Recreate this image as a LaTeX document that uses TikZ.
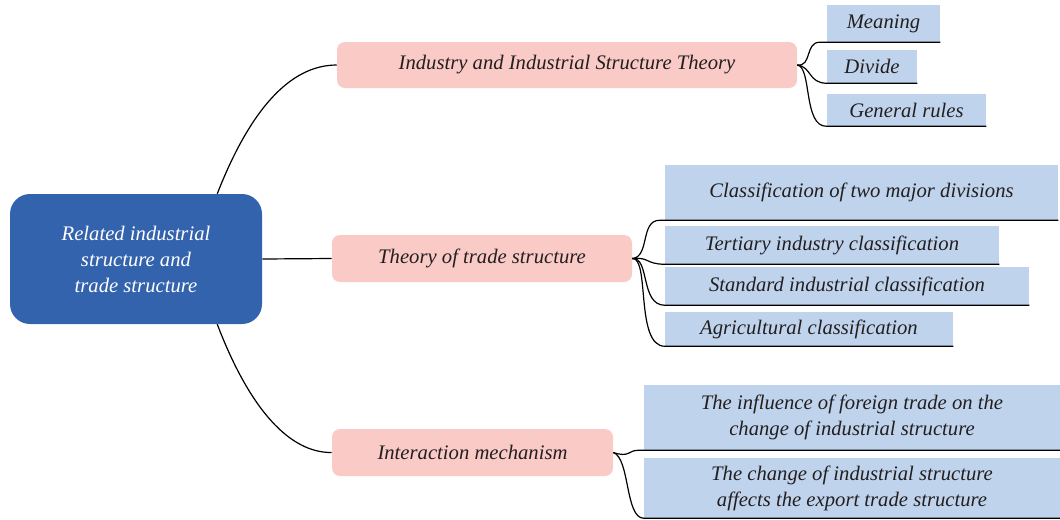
\documentclass[tikz,border=0pt]{standalone}
\usepackage{fontspec}
\setmainfont{Liberation Serif}
\usepackage{xcolor}
\usepackage{tikz}
\usetikzlibrary{calc}
\definecolor{rootblue}{HTML}{3463AE}
\definecolor{branchpink}{HTML}{F9CAC6}
\definecolor{leafblue}{HTML}{BFD4EC}
\definecolor{inkgray}{HTML}{231F20}
\tikzset{
  %---------------------------------------%
  %  Mind map boxes                       %
  %---------------------------------------%
  % Box for the central topic
  box_root/.style={
    rectangle,
    rounded corners=15pt,
    align=center,
    fill=rootblue,
    text=white,
    font=\itshape\fontsize{15.5}{19.5}\selectfont
  },
  % Box for the main branches
  box_branch/.style={
    rectangle,
    rounded corners=6pt,
    align=center,
    fill=branchpink,
    text=inkgray,
    font=\itshape\fontsize{15.5}{19.5}\selectfont
  },
  % Box for the leaves
  box_leaf/.style={
    rectangle,
    align=center,
    fill=leafblue,
    text=inkgray,
    font=\itshape\fontsize{15.5}{19.5}\selectfont
  },
  %----------------%
  %     Lines      %
  %----------------%
  link/.style={draw=black,line width=0.9pt},
}

\begin{document}
\begin{tikzpicture}[x=0.75pt, y=-0.75pt]
    \useasboundingbox (0,0) rectangle (1060,519);
    %------------------%
    %  Central topic   %
    %------------------%
    \node (root) [box_root, minimum width=189pt, minimum height=97.5pt] at (136, 259) {Related industrial\\structure and\\trade structure};

    %------------------%
    %  Main branches   %
    %------------------%
    % Industry branch
    \node (ind) [box_branch, minimum width=345pt, minimum height=34.5pt] at (567, 65) {Industry and Industrial Structure Theory};
    % Trade branch
    \node (trade) [box_branch, minimum width=225pt, minimum height=35.25pt] at (482, 258.5) {Theory of trade structure};
    % Interaction branch
    \node (inter) [box_branch, minimum width=210.75pt, minimum height=35.25pt] at (472.5, 452.5) {Interaction mechanism};

    %------------------------%
    %  Leaves: Industry      %
    %------------------------%
    \node (meaning) [box_leaf, minimum width=84.75pt, minimum height=27.75pt] at (883.5, 23.5) {Meaning};
    \node (divide) [box_leaf, minimum width=67.5pt, minimum height=24.75pt] at (872, 66.5) {Divide};
    \node (rules) [box_leaf, minimum width=119.25pt, minimum height=24pt] at (906.5, 110) {General rules};

    %------------------------%
    %  Leaves: Trade         %
    %------------------------%
    \node (twodiv) [box_leaf, minimum width=294.75pt, minimum height=41.25pt] at (861.5, 192.5) {Classification of two major divisions};
    \node (tertiary) [box_leaf, minimum width=250.5pt, minimum height=28.5pt] at (832, 245) {Tertiary industry classification};
    \node (standard) [box_leaf, minimum width=273pt, minimum height=28.5pt] at (847, 286) {Standard industrial classification};
    \node (agri) [box_leaf, minimum width=216pt, minimum height=25.5pt] at (809, 329) {Agricultural classification};

    %------------------------%
    %  Leaves: Interaction   %
    %------------------------%
    \node (influence) [box_leaf, minimum width=312pt, minimum height=48.75pt] at (852, 417.5) {The influence of foreign trade on the\\change of industrial structure};
    \node (change) [box_leaf, minimum width=312pt, minimum height=45pt] at (852, 488) {The change of industrial structure\\affects the export trade structure};

    %----------%
    %  Links   %
    %----------%
    % Central topic --> Industry
    \draw [link] ($(root.north east)+(-45,0)$) .. controls (250,110) and (290,65) .. (ind.west);
    % Central topic --> Trade
    \draw [link] (root.east) -- (trade.west);
    % Central topic --> Interaction
    \draw [link] ($(root.south east)+(-45,0)$) .. controls (250,410) and (290,453) .. (inter.west);

    % Industry --> leaves
    \draw [link] (ind.east) .. controls (812,67) and (805,42) .. ($(meaning.south west)+(-7,0)$) -- (meaning.south east);
    \draw [link] (ind.east) .. controls (812,67) and (808,83) .. (divide.south west) -- (divide.south east);
    \draw [link] (ind.east) .. controls (812,67) and (803,127) .. (rules.south west) -- (rules.south east);

    % Trade --> leaves
    \draw [link] (trade.east) .. controls (650,257) and (640,220) .. ($(twodiv.south west)+(-5,0)$) -- (twodiv.south east);
    \draw [link] (trade.east) .. controls (650,257) and (645,264) .. (tertiary.south west) -- (tertiary.south east);
    \draw [link] (trade.east) .. controls (650,257) and (640,305) .. (standard.south west) -- (standard.south east);
    \draw [link] (trade.east) .. controls (650,257) and (635,346) .. (agri.south west) -- (agri.south east);

    % Interaction --> leaves
    \draw [link] (inter.east) .. controls (630,458) and (628,450) .. ($(influence.south west)+(-5,0)$) -- (influence.south east);
    \draw [link] (inter.east) .. controls (630,458) and (625,518) .. (change.south west) -- (change.south east);
\end{tikzpicture}
\end{document}
